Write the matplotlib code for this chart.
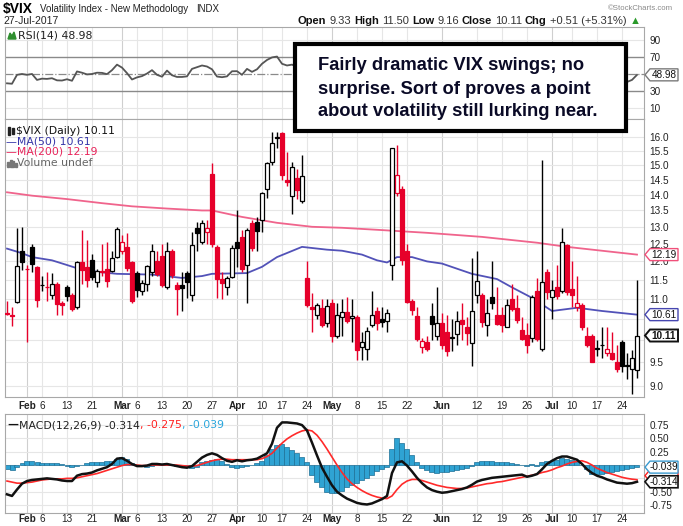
import matplotlib
matplotlib.use('Agg')
import matplotlib.pyplot as plt
from matplotlib.patches import Rectangle, Polygon
from matplotlib.ticker import NullLocator
import numpy as np
import pandas as pd

W, H = 683, 526

# trading days shown on the chart
holidays = ['2017-02-20', '2017-04-14', '2017-05-29', '2017-07-04']
dates = pd.bdate_range('2017-01-26', '2017-07-27')
dates = dates[~dates.isin(pd.to_datetime(holidays))]

prev_close = 10.81  # close of the day before the first candle

opens = [10.64, 10.60, 10.92, 12.30, 11.80, 12.42, 11.85, 11.35, 11.32, 11.10,
         11.40, 10.90, 11.30, 11.10, 10.80, 11.98, 11.85, 12.05, 11.43, 11.73,
         11.80, 11.75, 12.13, 12.30, 12.40, 11.98, 11.68, 11.20, 11.40, 11.70,
         12.00, 12.15, 11.30, 12.30, 11.35, 11.35, 11.68, 11.10, 12.96, 12.55,
         12.85, 14.70, 12.40, 11.52, 11.30, 11.58, 12.55, 12.70, 11.90, 13.10,
         13.15, 13.20, 14.20, 15.10, 16.00, 16.15, 14.50, 13.97, 14.55, 13.80,
         11.55, 10.80, 10.60, 10.77, 10.40, 10.90, 10.10, 10.55, 10.68, 10.52,
         10.55, 9.85, 9.80, 10.35, 10.70, 10.50, 10.45, 11.90, 14.05, 14.20,
         12.30, 10.95, 10.57, 9.85, 9.95, 10.57, 10.10, 10.40, 10.20, 10.05,
         10.15, 10.48, 10.30, 9.93, 11.10, 11.10, 10.35, 11.05, 10.60, 10.60,
         10.30, 11.00, 10.78, 10.25, 10.12, 10.05, 11.20, 9.80, 11.70, 11.05,
         11.30, 11.20, 12.45, 11.25, 10.80, 10.85, 10.10, 10.10, 9.80, 9.90,
         9.70, 9.70, 9.52, 9.97, 9.45, 9.35, 9.33]
highs = [10.95, 10.80, 12.97, 13.00, 11.90, 12.50, 11.87, 11.60, 11.70, 11.68,
         11.45, 10.95, 11.35, 11.15, 12.00, 12.90, 12.60, 12.20, 11.80, 12.48,
         12.55, 12.30, 13.00, 12.75, 12.80, 12.00, 11.75, 11.50, 11.90, 12.50,
         12.30, 12.50, 12.55, 12.35, 11.45, 11.70, 11.75, 12.85, 13.15, 13.20,
         13.20, 15.05, 12.45, 11.70, 11.60, 12.45, 13.50, 12.90, 12.95, 13.20,
         13.30, 14.10, 15.10, 16.20, 16.20, 16.20, 15.45, 15.10, 14.85, 15.35,
         12.00, 11.15, 10.90, 11.00, 11.00, 11.00, 10.90, 11.00, 11.05, 11.00,
         10.60, 10.20, 10.30, 11.20, 10.80, 10.80, 10.75, 15.60, 15.70, 14.30,
         12.50, 11.00, 10.80, 10.05, 10.10, 10.90, 11.30, 10.65, 10.60, 10.50,
         10.70, 10.90, 10.55, 12.10, 12.30, 11.15, 11.00, 12.00, 11.30, 10.80,
         11.00, 11.40, 11.10, 10.55, 10.40, 11.10, 11.55, 15.16, 11.80, 11.50,
         11.90, 12.95, 12.50, 12.00, 11.60, 10.90, 10.30, 10.15, 10.00, 10.30,
         10.30, 10.20, 9.90, 10.00, 9.70, 9.78, 11.50]
lows = [10.60, 10.33, 10.90, 11.76, 9.97, 11.70, 10.80, 11.20, 10.95, 11.00,
        10.60, 10.60, 10.95, 10.70, 10.75, 11.40, 11.30, 11.50, 11.30, 11.60,
        11.30, 11.70, 12.10, 12.20, 11.75, 10.90, 11.05, 11.10, 11.20, 11.60,
        11.60, 11.30, 11.25, 11.55, 10.60, 10.70, 11.03, 10.95, 12.30, 12.50,
        12.50, 12.40, 11.03, 11.00, 11.10, 11.55, 11.85, 11.70, 10.90, 12.30,
        12.30, 12.85, 13.90, 15.00, 15.60, 14.50, 14.30, 13.40, 13.85, 13.75,
        10.80, 10.20, 10.50, 10.30, 10.30, 9.95, 10.05, 10.10, 10.40, 9.97,
        9.56, 9.56, 9.55, 10.30, 10.25, 10.30, 10.20, 11.50, 13.95, 11.90,
        10.90, 10.60, 9.98, 9.70, 9.75, 10.00, 10.00, 9.80, 9.65, 9.75,
        9.90, 10.00, 9.90, 9.43, 10.90, 10.30, 10.10, 10.75, 10.35, 10.20,
        10.30, 10.70, 10.40, 10.00, 9.70, 9.95, 9.98, 9.75, 11.00, 10.50,
        11.00, 11.15, 11.10, 10.80, 10.70, 10.25, 9.85, 9.50, 9.65, 9.60,
        9.65, 9.55, 9.30, 9.30, 9.15, 8.84, 9.16]
closes = [10.63, 10.58, 11.88, 11.99, 11.78, 11.93, 10.97, 11.37, 11.30, 11.40,
          10.88, 10.85, 11.07, 10.74, 11.97, 11.76, 11.49, 11.57, 11.74, 11.71,
          11.47, 12.09, 12.92, 12.54, 11.81, 10.96, 11.24, 11.42, 11.86, 12.30,
          11.66, 11.35, 12.30, 11.63, 11.26, 11.28, 11.45, 12.47, 12.81, 13.12,
          12.96, 12.50, 11.53, 11.42, 11.54, 12.37, 12.38, 11.79, 12.89, 12.39,
          12.87, 14.05, 15.07, 15.77, 15.96, 14.66, 14.42, 14.93, 14.15, 14.63,
          10.84, 10.76, 10.85, 10.36, 10.82, 10.11, 10.59, 10.68, 10.46, 10.57,
          9.77, 9.96, 10.21, 10.60, 10.40, 10.42, 10.65, 15.59, 14.66, 12.04,
          10.93, 10.72, 10.02, 9.99, 9.81, 10.38, 10.41, 9.89, 9.75, 10.07,
          10.45, 10.39, 10.16, 10.70, 11.46, 10.42, 10.64, 10.90, 10.38, 10.37,
          10.86, 10.75, 10.48, 10.02, 9.90, 11.06, 10.03, 11.44, 11.18, 11.22,
          11.07, 12.54, 11.19, 11.11, 10.89, 10.30, 9.90, 9.51, 9.82, 9.89,
          9.79, 9.58, 9.36, 9.43, 9.43, 9.60, 10.11]

# moving averages at sample days (index into dates)
ma50_days = [0, 3, 5, 9, 12, 15, 19, 22, 29, 35, 39, 41, 48, 51, 54, 59, 64,
             67, 71, 74, 76, 78, 81, 84, 87, 93, 98, 101, 105, 109, 114, 119, 126]
ma50_vals = [12.36, 12.23, 12.12, 12.03, 11.90, 11.77, 11.70, 11.66, 11.64,
             11.55, 11.60, 11.66, 11.68, 11.85, 12.12, 12.41, 12.33, 12.30,
             12.19, 12.03, 11.97, 12.12, 12.12, 12.00, 11.94, 11.66, 11.52,
             11.30, 11.03, 10.70, 10.78, 10.70, 10.61]
ma200_days = [0, 5, 12, 19, 25, 32, 39, 41, 47, 54, 61, 67, 74, 84, 95, 106, 112, 126]
ma200_vals = [14.08, 13.97, 13.86, 13.73, 13.63, 13.56, 13.50, 13.50, 13.30,
              13.12, 13.00, 12.97, 12.91, 12.82, 12.70, 12.53, 12.41, 12.19]

rsi = [39, 38.5, 49, 50, 49, 50, 43, 44.5, 44.2, 45,
       42.5, 42.3, 43.8, 42, 53, 51.5, 49.5, 50, 51.5, 51.3,
       49.8, 54.5, 61, 57.5, 51, 43.5, 46, 47.5, 50.5, 54.5,
       49, 46.8, 54, 48.5, 46.5, 46.5, 47.2, 56, 58, 60,
       58.8, 55.5, 47, 46.2, 47.2, 53.2, 53.3, 49, 56, 52.5,
       55.5, 62, 66.5, 69.5, 70.5, 62, 60, 61, 58.5, 60.5,
       40, 39.6, 40, 38.3, 40.5, 37.8, 40.3, 40.8, 39.8, 40.5,
       36.8, 37.8, 39.6, 41.4, 40.6, 40.5, 41.6, 62, 58.5, 50.5,
       46.8, 46, 43.6, 43.5, 42.8, 45.2, 45.3, 43.3, 42.7, 44,
       45.6, 45.3, 44.5, 47.5, 50.5, 46, 47, 48.2, 46, 46,
       48.2, 47.7, 46.5, 44.5, 44, 50, 45, 52, 50.8, 51,
       50.4, 57, 50.5, 50, 49, 46.3, 44.4, 42.6, 44.5, 44.9,
       44.5, 43.5, 42.4, 40.5, 40.6, 43, 48.98]

macd = [-0.55, -0.58, -0.46, -0.35, -0.30, -0.28, -0.27, -0.26, -0.25, -0.26,
        -0.27, -0.29, -0.30, -0.30, -0.20, -0.17, -0.16, -0.14, -0.10, -0.07,
        -0.04, 0.02, 0.12, 0.13, 0.08, 0.02, -0.02, -0.02, -0.01, 0.02,
        0.02, 0.01, 0.02, 0.00, -0.02, -0.04, -0.05, -0.02, 0.06, 0.14,
        0.19, 0.22, 0.19, 0.13, 0.08, 0.06, 0.09, 0.07, 0.09, 0.10,
        0.12, 0.17, 0.22, 0.40, 0.70, 0.80, 0.80, 0.79, 0.78, 0.75,
        0.65, 0.42, 0.18, -0.05, -0.22, -0.38, -0.50, -0.57, -0.63, -0.67,
        -0.71, -0.73, -0.74, -0.72, -0.68, -0.64, -0.58, -0.15, 0.05, 0.07,
        -0.01, -0.12, -0.24, -0.34, -0.42, -0.47, -0.50, -0.52, -0.51, -0.49,
        -0.47, -0.45, -0.42, -0.37, -0.31, -0.28, -0.26, -0.24, -0.23, -0.22,
        -0.21, -0.20, -0.19, -0.18, -0.22, -0.20, -0.17, -0.08, 0.02, 0.08,
        0.13, 0.16, 0.16, 0.13, 0.10, 0.02, -0.08, -0.15, -0.20, -0.23,
        -0.27, -0.30, -0.33, -0.34, -0.35, -0.34, -0.314]
signal = [-0.30, -0.32, -0.34, -0.34, -0.33, -0.32, -0.30, -0.28, -0.27, -0.26,
          -0.26, -0.26, -0.25, -0.25, -0.24, -0.22, -0.20, -0.18, -0.16, -0.13,
          -0.10, -0.07, -0.04, -0.01, 0.01, 0.01, 0.00, -0.01, -0.01, 0.00,
          0.00, 0.00, 0.00, 0.00, 0.00, -0.01, -0.02, -0.02, -0.01, 0.02,
          0.05, 0.08, 0.10, 0.11, 0.11, 0.10, 0.10, 0.10, 0.10, 0.10,
          0.10, 0.12, 0.16, 0.22, 0.32, 0.41, 0.49, 0.55, 0.60, 0.64,
          0.66, 0.64, 0.56, 0.44, 0.30, 0.15, 0.00, -0.14, -0.26, -0.35,
          -0.42, -0.48, -0.53, -0.57, -0.60, -0.62, -0.63, -0.58, -0.46, -0.36,
          -0.30, -0.27, -0.27, -0.29, -0.32, -0.35, -0.38, -0.40, -0.42, -0.43,
          -0.44, -0.44, -0.43, -0.41, -0.39, -0.37, -0.35, -0.34, -0.32, -0.31,
          -0.29, -0.27, -0.25, -0.23, -0.21, -0.19, -0.17, -0.14, -0.12, -0.09,
          -0.05, -0.02, 0.02, 0.05, 0.07, 0.08, 0.05, 0.00, -0.06, -0.10,
          -0.14, -0.17, -0.20, -0.23, -0.25, -0.265, -0.275]
hist = [-0.08, -0.10, -0.04, 0.04, 0.07, 0.08, 0.05, 0.04, 0.04, 0.04,
        0.03, 0.02, -0.02, -0.03, -0.02, 0.01, 0.04, 0.05, 0.06, 0.06,
        0.07, 0.07, 0.12, 0.15, 0.12, 0.04, 0.00, -0.02, -0.03, -0.01,
        0.01, 0.02, 0.00, 0.02, -0.01, 0.00, -0.04, -0.06, -0.04, 0.05,
        0.08, 0.10, 0.11, 0.08, 0.02, -0.03, -0.05, -0.03, -0.02, 0.01,
        0.03, 0.08, 0.18, 0.30, 0.37, 0.40, 0.33, 0.28, 0.22, 0.15,
        0.05, -0.18, -0.32, -0.42, -0.50, -0.52, -0.52, -0.48, -0.42, -0.38,
        -0.33, -0.28, -0.24, -0.18, -0.12, -0.07, -0.03, 0.30, 0.50, 0.42,
        0.30, 0.18, 0.06, -0.05, -0.10, -0.13, -0.14, -0.13, -0.13, -0.12,
        -0.10, -0.08, -0.05, -0.02, 0.05, 0.08, 0.08, 0.07, 0.06, 0.05,
        0.05, 0.04, 0.02, 0.01, -0.02, 0.02, -0.02, 0.06, 0.07, 0.08,
        0.10, 0.13, 0.11, 0.09, 0.05, 0.00, -0.08, -0.16, -0.17, -0.17,
        -0.15, -0.13, -0.11, -0.09, -0.07, -0.05, -0.039]

tick_dates = ['2017-02-01', '2017-02-06', '2017-02-13', '2017-02-21', '2017-03-01',
              '2017-03-06', '2017-03-13', '2017-03-20', '2017-03-27', '2017-04-03',
              '2017-04-10', '2017-04-17', '2017-04-24', '2017-05-01', '2017-05-08',
              '2017-05-15', '2017-05-22', '2017-06-01', '2017-06-12', '2017-06-19',
              '2017-06-26', '2017-07-03', '2017-07-10', '2017-07-17', '2017-07-24']
tick_labels = ['Feb', '6', '13', '21', 'Mar', '6', '13', '20', '27', 'Apr', '10',
               '17', '24', 'May', '8', '15', '22', 'Jun', '12', '19', '26', 'Jul',
               '10', '17', '24']
months = ['Feb', 'Mar', 'Apr', 'May', 'Jun', 'Jul']

# right-axis labels that sit under a value tag on the original
price_ticks = [9.0, 9.5, 10.0, 10.5, 11.0, 11.5, 12.0, 12.5, 13.0, 13.5, 14.0,
               14.5, 15.0, 15.5, 16.0]
price_tick_labels = ['9.0', '9.5', '', '', '11.0', '11.5', '12.0', '12.5', '13.0',
                     '13.5', '14.0', '14.5', '15.0', '15.5', '16.0']
macd_ticks = [0.75, 0.5, 0.25, 0.0, -0.25, -0.5, -0.75]
macd_tick_labels = ['0.75', '0.50', '0.25', '', '', '-0.50', '-0.75']

RED = '#e6002a'
MA50_C = '#5252b8'
MA200_C = '#f0648c'
HIST_C = '#2fa3d3'
LBL = ['Liberation Sans', 'DejaVu Sans']
LEG = 7.8

x = np.arange(len(dates))
tick_pos = [dates.get_loc(pd.Timestamp(d)) for d in tick_dates]

fig = plt.figure(figsize=(W / 100, H / 100), dpi=100)
fig.patch.set_facecolor('white')


def box(left, top, right, bottom):
    return [left / W, 1 - bottom / H, (right - left) / W, (bottom - top) / H]


ax_rsi = fig.add_axes(box(5, 27, 644, 119))
ax_px = fig.add_axes(box(5, 119, 644, 397))
ax_macd = fig.add_axes(box(5, 414, 644, 513))

for ax in (ax_rsi, ax_px, ax_macd):
    ax.set_xlim(-0.4, 127.4)
    for s in ax.spines.values():
        s.set_color('#a8a8a8')
        s.set_linewidth(0.8)
    for p, lab in zip(tick_pos, tick_labels):
        ax.axvline(p, color='#cfcfcf' if lab in months else '#e6e6e6', lw=0.8, zorder=0)
    ax.yaxis.tick_right()
    ax.tick_params(axis='y', length=0, pad=4, labelsize=7.2, labelcolor='#222222')
    ax.tick_params(axis='x', length=0, pad=3, labelsize=7.2, labelcolor='#222222')
    ax.set_xticks(tick_pos)
    ax.set_xticklabels(tick_labels)
ax_macd.tick_params(axis='x', pad=1)

# ---------------- RSI panel
ax_rsi.set_ylim(-3, 105.3)
ax_rsi.set_yticks([90, 70, 30, 10])
ax_rsi.set_yticklabels(['90', '70', '30', '10'])
ax_rsi.set_xticklabels([])
for lv in (90, 10):
    ax_rsi.axhline(lv, color='#e6e6e6', lw=0.8, zorder=0)
for lv in (70, 30):
    ax_rsi.axhline(lv, color='#8a8a8a', lw=1.0, zorder=1)
ax_rsi.axhline(50, color='#8a8a8a', lw=0.9, ls='-.', zorder=1)
ax_rsi.plot(x, rsi, color='#555555', lw=1.3, zorder=3)

# ---------------- price panel
ax_px.set_yscale('log')
ax_px.set_ylim(8.77, 16.68)
ax_px.set_yticks(price_ticks)
ax_px.set_yticklabels(price_tick_labels)
ax_px.yaxis.set_minor_locator(NullLocator())
for v in price_ticks:
    ax_px.axhline(v, color='#e6e6e6', lw=0.8, zorder=0)

o = np.array(opens)
h = np.array(highs)
l = np.array(lows)
c = np.array(closes)
pc = np.concatenate([[prev_close], c[:-1]])
col = [RED if cc < pp else 'black' for cc, pp in zip(c, pc)]
face = ['white' if cc >= oo else cl for cc, oo, cl in zip(c, o, col)]
ax_px.vlines(x, l, h, colors=col, lw=1.0, zorder=3)
ax_px.bar(x, np.abs(c - o), bottom=np.minimum(o, c), width=0.72,
          color=face, edgecolor=col, linewidth=0.9, zorder=4)
ax_px.plot(ma200_days, ma200_vals, color=MA200_C, lw=1.3, zorder=2)
ax_px.plot(ma50_days, ma50_vals, color=MA50_C, lw=1.3, zorder=2)

# ---------------- MACD panel
ax_macd.set_ylim(-0.90, 0.958)
ax_macd.set_yticks(macd_ticks)
ax_macd.set_yticklabels(macd_tick_labels)
for v in macd_ticks:
    ax_macd.axhline(v, color='#e6e6e6', lw=0.8, zorder=0)
ax_macd.bar(x, hist, width=1.0, color=HIST_C, edgecolor='#1d6f96', linewidth=0.5, zorder=2)
ax_macd.plot(x, signal, color='#ff2a2a', lw=1.2, zorder=3)
ax_macd.plot(x, macd, color='#111111', lw=1.8, zorder=4)

for ax in (ax_rsi, ax_px, ax_macd):
    for t in ax.get_xticklabels() + ax.get_yticklabels():
        t.set_family(LBL)
        if t.get_text() in months:
            t.set_fontweight('bold')


# ---------------- texts in pixel coordinates
def ftext(px, py, s, **kw):
    kw.setdefault('va', 'center')
    return fig.text(px / W, 1 - py / H, s, **kw)


renderer = fig.canvas.get_renderer()


def run(px, py, pieces, size, gap=3, family=LBL):
    for s, weight, color in pieces:
        t = ftext(px, py, s, fontsize=size, fontweight=weight, color=color, family=family)
        px += t.get_window_extent(renderer).width + gap
    return px


run(3, 9, [('$VIX', 'bold', 'black')], 10)
run(40, 9.5, [('Volatility Index - New Methodology', 'normal', '#222222')], 7)
run(196, 9.5, [('INDX', 'normal', '#222222')], 7)
ftext(3, 21, '27-Jul-2017', fontsize=7.5, family=LBL, color='#222222')
ftext(673, 8, '\u00a9StockCharts.com', fontsize=5.6, family=LBL, color='#8a8a8a', ha='right')
run(298, 21, [('Open', 'bold', '#111111'), ('9.33', 'normal', '#333333'),
              ('High', 'bold', '#111111'), ('11.50', 'normal', '#333333'),
              ('Low', 'bold', '#111111'), ('9.16', 'normal', '#333333'),
              ('Close', 'bold', '#111111'), ('10.11', 'normal', '#333333'),
              ('Chg', 'bold', '#111111'), ('+0.51 (+5.31%)', 'normal', '#333333'),
              ('\u25b2', 'normal', '#2a9a2a')], 8, gap=3)

# legend icons and texts
fig.add_artist(Polygon([(8 / W, 1 - 39 / H), (10 / W, 1 - 33 / H), (12 / W, 1 - 36 / H),
                        (14 / W, 1 - 32 / H), (16 / W, 1 - 39 / H)],
                       closed=True, color='#2f8f2f', transform=fig.transFigure))
ftext(18, 35, 'RSI(14) 48.98', fontsize=LEG, color='#222222')

for bx, by0, by1 in ((8, 127, 135), (12, 128, 134)):
    fig.add_artist(Rectangle((bx / W, 1 - by1 / H), 2.2 / W, (by1 - by0) / H,
                             color='#222222', transform=fig.transFigure))
ftext(16, 131, '$VIX (Daily) 10.11', fontsize=LEG, color='#111111')
ftext(6, 141.5, '\u2014MA(50) 10.61', fontsize=LEG, color='#3434a8')
ftext(6, 152, '\u2014MA(200) 12.19', fontsize=LEG, color='#e8245a')
for bx, bh in ((7, 5), (9.5, 7), (12, 6), (14.5, 4)):
    fig.add_artist(Rectangle((bx / W, 1 - 166.5 / H), 2 / W, bh / H,
                             color='#777777', transform=fig.transFigure))
ftext(17, 163, 'Volume undef', fontsize=LEG, color='#666666')

run(7, 425, [('\u2014', 'bold', '#111111')], LEG, gap=1, family='DejaVu Sans')
run(19, 425, [('MACD(12,26,9) -0.314', 'normal', '#222222'),
              (', -0.275', 'normal', '#ff2020'),
              (', -0.039', 'normal', '#2aa6dc')], LEG, gap=0, family='DejaVu Sans')


# right-hand value tags
def tag(ax, value, text, edge, bold=False, dy=0.0, lw=1.0, z=5):
    yd = ax.transData.transform((0, value))[1] + dy
    yf = yd / H
    hh = 6.0 / H
    pts = [(645 / W, yf), (650 / W, yf + hh), (678 / W, yf + hh),
           (678 / W, yf - hh), (650 / W, yf - hh)]
    fig.add_artist(Polygon(pts, closed=True, facecolor='white', edgecolor=edge,
                           lw=lw, transform=fig.transFigure, zorder=z))
    if text:
        fig.text(664 / W, yf, text, fontsize=7.2, family=LBL, ha='center', va='center',
                 color='#111111', fontweight='bold' if bold else 'normal', zorder=z + 0.5)


tag(ax_rsi, rsi[-1], '48.98', '#7a7a7a')
tag(ax_px, ma200_vals[-1], '12.19', '#f0507a')
tag(ax_px, ma50_vals[-1], '10.61', '#4646b0')
tag(ax_px, closes[-1], '10.11', '#111111', bold=True, lw=1.4, z=6)
# signal tag sits almost completely behind the MACD tag
tag(ax_macd, signal[-1], '', '#ff2020', dy=4, z=5)
tag(ax_macd, hist[-1], '-0.039', '#3a9ad0', z=6)
tag(ax_macd, macd[-1], '-0.314', '#111111', lw=1.2, z=7)

# annotation box
fig.add_artist(Rectangle((295 / W, 1 - 131 / H), (626 - 295) / W, (131 - 44) / H,
                         facecolor='white', edgecolor='black', lw=3.0,
                         transform=fig.transFigure, zorder=10))
note = ['Fairly dramatic VIX swings; no',
        'surprise. Sort of proves a point',
        'about volatility still lurking near.']
for i, line in enumerate(note):
    t = ftext(318, 66 + 23 * i, line, fontsize=13.2, fontweight='bold',
              family=['Liberation Sans', 'DejaVu Sans'], color='#0a0a26', ha='left')
    t.set_zorder(11)

fig.savefig('out.png', dpi=100, facecolor='white')
